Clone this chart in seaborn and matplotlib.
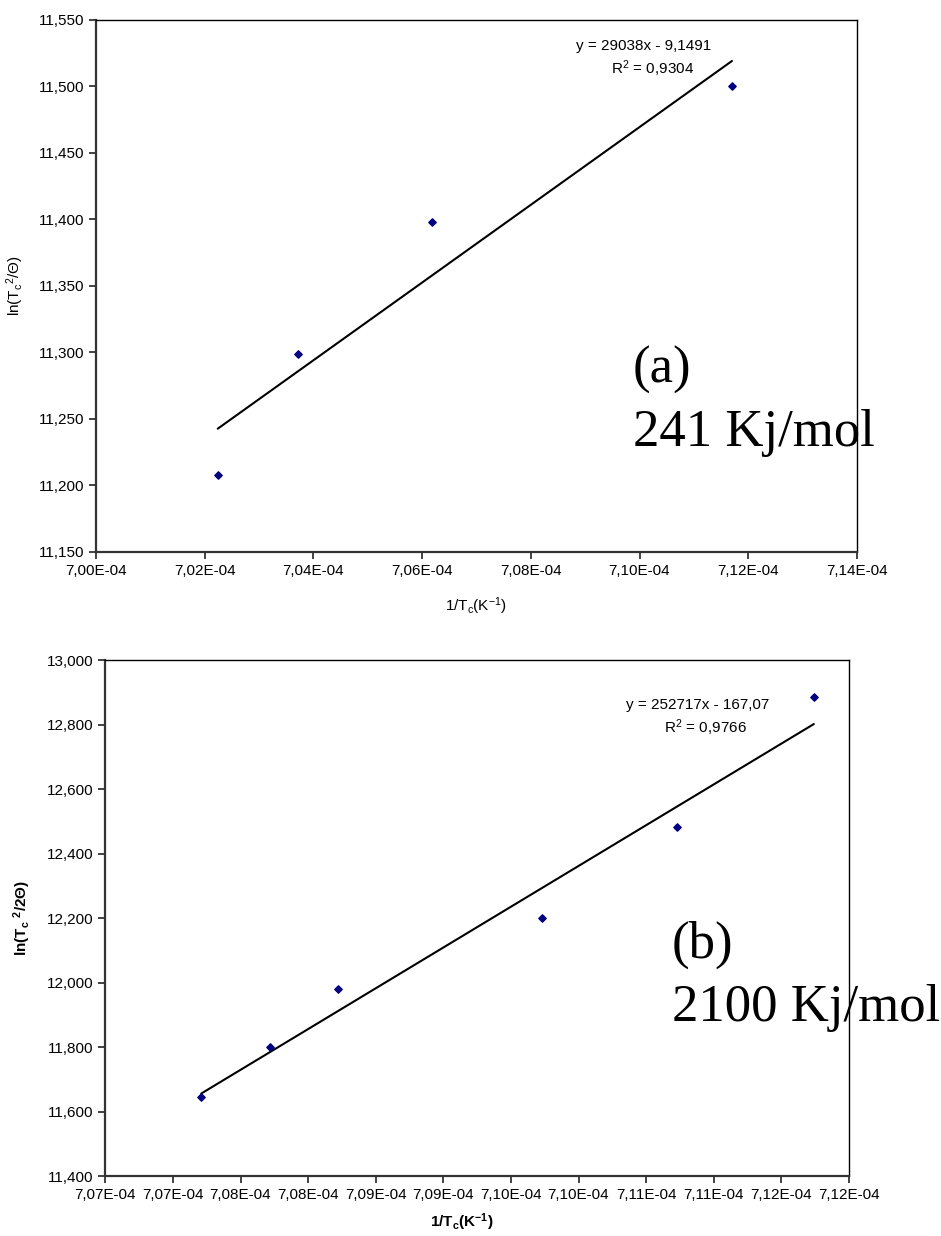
import matplotlib
matplotlib.use("Agg")
import matplotlib.pyplot as plt
import seaborn as sns
import pandas as pd

# panel (a)
inv_tc_a = [7.0224e-4, 7.0372e-4, 7.0618e-4, 7.1170e-4]
ln_a = [11.208, 11.299, 11.398, 11.500]
eq_a = "y = 29038x - 9,1491"
r2_a = "R$^2$ = 0,9304"
xticks_a = [7.00e-4, 7.02e-4, 7.04e-4, 7.06e-4, 7.08e-4, 7.10e-4, 7.12e-4, 7.14e-4]
yticks_a = [11.150, 11.200, 11.250, 11.300, 11.350, 11.400, 11.450, 11.500, 11.550]

# panel (b)
inv_tc_b = [7.0771e-4, 7.0822e-4, 7.0872e-4, 7.1023e-4, 7.1123e-4, 7.1224e-4]
ln_b = [11.646, 11.799, 11.980, 12.199, 12.483, 12.886]
eq_b = "y = 252717x - 167,07"
r2_b = "R$^2$ = 0,9766"
xticks_b = [7.070e-4 + k * 0.005e-4 for k in range(12)]
xticklabels_b = ["7,07E-04", "7,07E-04", "7,08E-04", "7,08E-04", "7,09E-04", "7,09E-04",
                 "7,10E-04", "7,10E-04", "7,11E-04", "7,11E-04", "7,12E-04", "7,12E-04"]
yticks_b = [11.400, 11.600, 11.800, 12.000, 12.200, 12.400, 12.600, 12.800, 13.000]

sns.set_style("ticks")
plt.rcParams['font.family'] = ['Liberation Sans', 'DejaVu Sans']
plt.rcParams['mathtext.default'] = 'regular'
plt.rcParams['text.color'] = 'black'
plt.rcParams['axes.labelcolor'] = 'black'

fig = plt.figure(figsize=(9.41, 12.36), dpi=100)
ax1 = fig.add_axes([0.102, 0.5534, 0.8087, 0.4308])
ax2 = fig.add_axes([0.1119, 0.0485, 0.7903, 0.4175])

df_a = pd.DataFrame({"x": inv_tc_a, "y": ln_a})
df_b = pd.DataFrame({"x": inv_tc_b, "y": ln_b})

for ax, df in [(ax1, df_a), (ax2, df_b)]:
    sns.regplot(data=df, x="x", y="y", ax=ax, ci=None, truncate=True, marker="D",
                scatter_kws=dict(s=14, color="#000080", edgecolor="#000080", alpha=1, zorder=3),
                line_kws=dict(color="black", lw=1.5, zorder=2))
    for s in ax.spines.values():
        s.set_visible(True)
        s.set_color("black")
        s.set_linewidth(1.0)
    ax.spines['left'].set_linewidth(1.6)
    ax.spines['bottom'].set_linewidth(1.6)
    ax.spines['left'].set_color("#333333")
    ax.spines['bottom'].set_color("#333333")
    ax.tick_params(direction="out", length=5, width=1.2, labelsize=11, color="#222222",
                   labelcolor="black", top=False, right=False)

# panel (a) axes
ax1.set_xlim(7.00e-4, 7.14e-4)
ax1.set_ylim(11.150, 11.550)
ax1.set_xticks(xticks_a)
ax1.set_xticklabels([f"{v:.2E}".replace(".", ",") for v in xticks_a])
ax1.set_yticks(yticks_a)
ax1.set_yticklabels([f"{v:.3f}".replace(".", ",") for v in yticks_a])
ax1.set_xlabel("1/T$_c$(K$^{-1}$)", fontsize=11)
ax1.set_ylabel("ln(T$_c$$^2$/Θ)", fontsize=11)
ax1.xaxis.set_label_coords(0.5, -0.082)
ax1.yaxis.set_label_coords(-0.092, 0.5)
ax1.text(0.719, 0.950, eq_a, transform=ax1.transAxes, ha="center", va="center", fontsize=11)
ax1.text(0.731, 0.907, r2_a, transform=ax1.transAxes, ha="center", va="center", fontsize=11)

# panel (b) axes
ax2.set_xlim(7.070e-4, 7.125e-4)
ax2.set_ylim(11.400, 13.000)
ax2.set_xticks(xticks_b)
ax2.set_xticklabels(xticklabels_b)
ax2.set_yticks(yticks_b)
ax2.set_yticklabels([f"{v:.3f}".replace(".", ",") for v in yticks_b])
ax2.set_xlabel("1/T$_c$(K$^{-1}$)", fontsize=11, fontweight="bold")
ax2.set_ylabel("ln(T$_c$ $^2$/2Θ)", fontsize=11, fontweight="bold")
ax2.xaxis.set_label_coords(0.48, -0.068)
ax2.yaxis.set_label_coords(-0.097, 0.5)
ax2.text(0.797, 0.913, eq_b, transform=ax2.transAxes, ha="center", va="center", fontsize=11)
ax2.text(0.807, 0.868, r2_b, transform=ax2.transAxes, ha="center", va="center", fontsize=11)

# big labels
big = dict(family=["Liberation Serif", "DejaVu Serif"], fontsize=38, va="baseline", ha="left",
           color="black")
fig.text(0.6727, 0.690, "(a)", **big)
fig.text(0.6727, 0.6394, "241 Kj/mol", **big)
fig.text(0.7138, 0.2249, "(b)", **big)
fig.text(0.7138, 0.1740, "2100 Kj/mol", **big)

fig.savefig("out.png", dpi=100, facecolor="white")
